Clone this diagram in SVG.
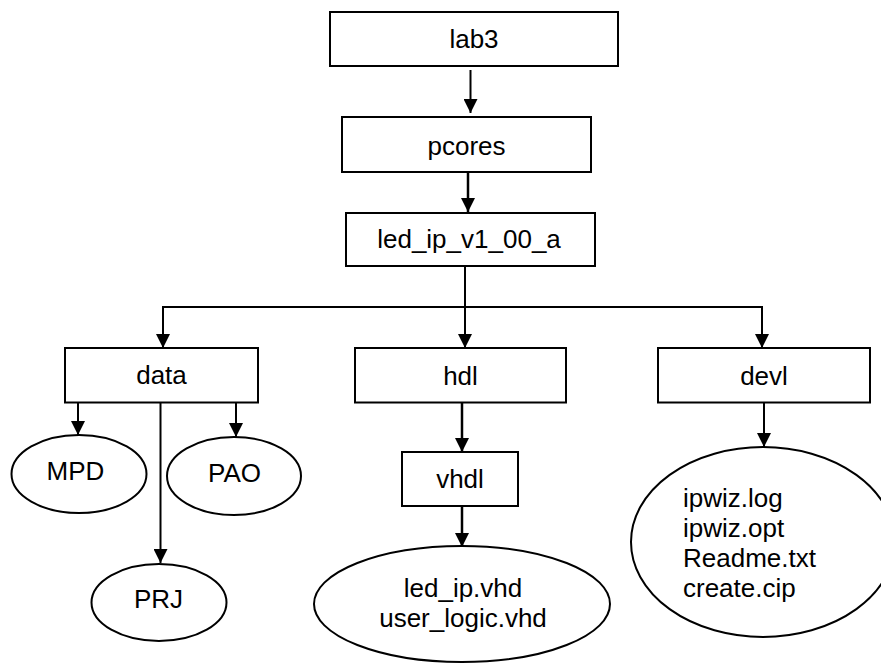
<svg xmlns="http://www.w3.org/2000/svg" width="881" height="667" viewBox="0 0 881 667">
<defs>
<marker id="ah" markerWidth="14" markerHeight="14" refX="14" refY="7" orient="auto" markerUnits="userSpaceOnUse">
<path d="M0,0 L14,7 L0,14 Z" fill="#000"/>
</marker>
<style>
.box{fill:#fff;stroke:#000;stroke-width:2}
.t{font-family:"Liberation Sans",Arial,sans-serif;font-size:26px;fill:#000;text-anchor:middle}
.tl{font-family:"Liberation Sans",Arial,sans-serif;font-size:26px;fill:#000;text-anchor:start}
.c{fill:none;stroke:#000;stroke-width:2}
</style>
</defs>
<rect width="881" height="667" fill="#fff"/>
<g id="connectors">
<line class="c" x1="470.5" y1="70" x2="470.5" y2="113" marker-end="url(#ah)"/>
<line class="c" x1="468" y1="172" x2="468" y2="212" marker-end="url(#ah)" style="stroke-width:2.5"/>
<polyline class="c" points="465,266 465,307"/>
<polyline class="c" points="163,307 762,307"/>
<line class="c" x1="163" y1="306" x2="163" y2="348" marker-end="url(#ah)"/>
<line class="c" x1="762" y1="306" x2="762" y2="348" marker-end="url(#ah)"/>
<line class="c" x1="465" y1="307" x2="465" y2="348" marker-end="url(#ah)"/>
<line class="c" x1="78" y1="403" x2="78" y2="435" marker-end="url(#ah)"/>
<line class="c" x1="236" y1="403" x2="236" y2="437" marker-end="url(#ah)"/>
<line class="c" x1="160.5" y1="403" x2="160.5" y2="563" marker-end="url(#ah)"/>
<line class="c" x1="462" y1="403" x2="462" y2="452" marker-end="url(#ah)" style="stroke-width:2.5"/>
<line class="c" x1="462" y1="506" x2="462" y2="547" marker-end="url(#ah)" style="stroke-width:2.5"/>
<line class="c" x1="764" y1="403" x2="764" y2="447" marker-end="url(#ah)"/>
</g>
<g id="lab3"><rect class="box" x="330" y="12" width="288" height="54"/><text class="t" x="474" y="48">lab3</text></g>
<g id="pcores"><rect class="box" x="342" y="117" width="249" height="55"/><text class="t" x="466.5" y="155">pcores</text></g>
<g id="led_ip"><rect class="box" x="346" y="213" width="249" height="53"/><text class="t" x="469" y="248">led_ip_v1_00_a</text></g>
<g id="data"><rect class="box" x="65" y="348" width="193" height="54.5"/><text class="t" x="161.5" y="384">data</text></g>
<g id="hdl"><rect class="box" x="355" y="348" width="211" height="54.5"/><text class="t" x="460.5" y="385">hdl</text></g>
<g id="devl"><rect class="box" x="658" y="348" width="212" height="54.5"/><text class="t" x="764" y="385">devl</text></g>
<g id="mpd"><ellipse class="box" cx="79" cy="474" rx="67.5" ry="39"/><text class="t" x="75.5" y="480">MPD</text></g>
<g id="pao"><ellipse class="box" cx="234" cy="476" rx="67" ry="39"/><text class="t" x="234.5" y="482">PAO</text></g>
<g id="prj"><ellipse class="box" cx="159" cy="602.5" rx="67.5" ry="38.5"/><text class="t" x="158.5" y="608">PRJ</text></g>
<g id="vhdl"><rect class="box" x="402" y="452" width="116" height="54"/><text class="t" x="460" y="488">vhdl</text></g>
<g id="vhdfiles"><ellipse class="box" cx="462" cy="604" rx="148" ry="58"/><text class="t" x="463" y="597">led_ip.vhd</text><text class="t" x="463" y="627">user_logic.vhd</text></g>
<g id="devlfiles"><ellipse class="box" cx="763" cy="542" rx="132" ry="95"/>
<text class="tl" x="683" y="507">ipwiz.log</text>
<text class="tl" x="683" y="537">ipwiz.opt</text>
<text class="tl" x="683" y="567">Readme.txt</text>
<text class="tl" x="683" y="597">create.cip</text></g>
</svg>
